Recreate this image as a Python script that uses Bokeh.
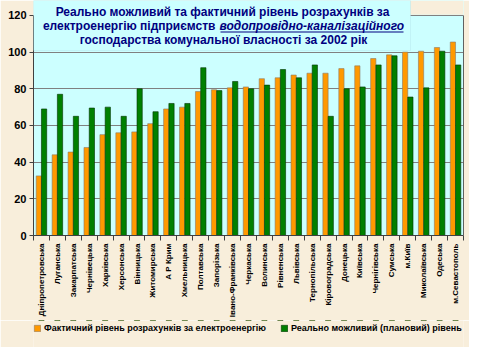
import math
from bokeh.plotting import figure
from bokeh.layouts import column
from bokeh.models import (ColumnDataSource, Range1d, FixedTicker, Legend, LegendItem,
                          BoxAnnotation, Label, LinearAxis)
from bokeh.transform import dodge
from bokeh.embed import file_html
from bokeh.resources import INLINE

regions = ["Дніпропетровська", "Луганська", "Закарпатська", "Чернівецька", "Харківська",
           "Херсонська", "Вінницька", "Житомирська", "А Р Крим", "Хмельницька",
           "Полтавська", "Запорізька", "Івано-Франківська", "Черкаська", "Волинська",
           "Рівненська", "Львівська", "Тернопільська", "Кіровоградська", "Донецька",
           "Київська", "Чернігівська", "Сумська", "м.Київ", "Миколаївська", "Одеська",
           "м.Севастополь"]
actual = [32.5, 44, 45.5, 48, 55, 56, 56.5, 61, 69, 70, 78.5, 79.5, 80.5, 81, 85.5, 86,
          87.5, 88.5, 88.5, 91, 92.5, 96.5, 98.5, 100, 100.5, 102.5, 105.5]
planned = [69, 77, 65, 69.5, 70, 65, 80, 67.5, 72, 72, 91.5, 79, 84, 80, 82, 90.5,
           86, 93, 65, 80, 81, 93, 98, 75.5, 80.5, 100.5, 93]
y_ticks = [0, 20, 40, 60, 80, 100, 120]

title_line1 = "Реально можливий та фактичний рівень розрахунків за"
title_line2a = "електроенергію підприємств"
title_line2b = "водопровідно-каналізаційного"
title_line3 = "господарства комунальної власності за 2002 рік"
legend_actual = "Фактичний рівень розрахунків за електроенергію"
legend_planned = "Реально можливий (плановий) рівень"

FONT = "Liberation Sans"
BG = "#f8eedb"
CYAN = "#ccffff"
ORANGE = "#ff9900"
GREEN = "#008000"
ORANGE_LINE = "#8a7a6a"
GREEN_LINE = "#003300"
AXIS = "#404040"

Y_MAX = max(y_ticks)
FIG_H, BOTTOM, TOP_GAP = 320, 84, 15
FRAME_H = FIG_H - BOTTOM
y_top = Y_MAX * FRAME_H / (FRAME_H - TOP_GAP)   # frame reaches canvas top; 120 sits 15px below

positions = list(range(1, len(regions) + 1))
src = ColumnDataSource(dict(x=positions, actual=actual, planned=planned))

p = figure(width=469, height=FIG_H, output_backend="svg", toolbar_location=None, title=None,
           x_range=Range1d(0.5, len(regions) + 0.5), y_range=Range1d(0, y_top),
           min_border_left=33, min_border_right=6, min_border_top=0, min_border_bottom=BOTTOM)

p.background_fill_color = CYAN
p.border_fill_color = BG
p.outline_line_color = None

p.vbar(x=dodge('x', -0.165, range=p.x_range), top='actual', width=0.33, source=src,
       fill_color=ORANGE, line_color=ORANGE_LINE, line_width=0.6)
p.vbar(x=dodge('x', 0.165, range=p.x_range), top='planned', width=0.33, source=src,
       fill_color=GREEN, line_color=GREEN_LINE, line_width=0.6)

xa = p.xaxis[0]
xa.ticker = FixedTicker(ticks=positions, minor_ticks=[i + 0.5 for i in range(len(regions) + 1)])
xa.major_label_overrides = {i + 1: n for i, n in enumerate(regions)}
xa.major_label_orientation = math.pi / 2
xa.major_tick_out = 0
xa.major_tick_in = 0
xa.minor_tick_out = 5
xa.minor_tick_in = 0
xa.major_label_standoff = 3
xa.major_label_text_font = FONT
xa.major_label_text_font_style = "bold"
xa.major_label_text_font_size = "8px"
xa.major_label_text_color = "black"
xa.axis_line_color = AXIS
xa.minor_tick_line_color = AXIS

ya = p.yaxis[0]
ya.ticker = FixedTicker(ticks=y_ticks)
ya.bounds = (0, Y_MAX)
ya.major_tick_out = 4
ya.major_tick_in = 0
ya.minor_tick_out = 0
ya.minor_tick_in = 0
ya.major_label_standoff = 3
ya.major_label_text_font = FONT
ya.major_label_text_font_style = "bold"
ya.major_label_text_font_size = "11px"
ya.major_label_text_color = "black"
ya.axis_line_color = AXIS
ya.major_tick_line_color = AXIS

# right edge of the plot area (0..120)
right_edge = LinearAxis(ticker=FixedTicker(ticks=[]), bounds=(0, Y_MAX),
                        major_tick_out=0, major_tick_in=0, minor_tick_out=0, minor_tick_in=0,
                        major_label_standoff=0, major_label_text_font_size="0px",
                        axis_line_color="#606060")
p.add_layout(right_edge, "right")

p.xgrid.visible = False
p.ygrid.ticker = FixedTicker(ticks=y_ticks)
p.ygrid.grid_line_color = "#808080"

# beige above the 120 line (outside the reference's plot area)
p.add_layout(BoxAnnotation(bottom=Y_MAX + 0.35, fill_color=BG, fill_alpha=1.0, line_alpha=0))

box = BoxAnnotation(left=33, right=410, top=0, bottom=50,
                    left_units="canvas", right_units="canvas",
                    top_units="canvas", bottom_units="canvas",
                    fill_color=CYAN, fill_alpha=1.0,
                    line_color="#a8d8e0", line_width=1)
p.add_layout(box)

def tlabel(x, y, text, align="center", style="bold"):
    return Label(x=x, y=y, x_units="canvas", y_units="canvas", text=text,
                 text_align=align, text_baseline="middle", text_font=FONT,
                 text_font_size="12px", text_font_style=style, text_color="#000080")

p.add_layout(tlabel(222, 11, title_line1))
p.add_layout(tlabel(215, 25, title_line2a, align="right"))
p.add_layout(tlabel(219, 25, title_line2b, align="left", style="bold italic"))
p.add_layout(tlabel(223, 39, title_line3))
underline = BoxAnnotation(left=220, right=403, top=31, bottom=32,
                          left_units="canvas", right_units="canvas",
                          top_units="canvas", bottom_units="canvas",
                          fill_color="#000080", fill_alpha=1.0, line_alpha=0)
p.add_layout(underline)

# legend strip (its bars sit outside its visible range; only the legend shows)
lg = figure(width=469, height=27, output_backend="svg", toolbar_location=None, title=None,
            x_axis_type=None, y_axis_type=None,
            x_range=Range1d(0.5, len(regions) + 0.5), y_range=Range1d(-2, -1),
            min_border_left=0, min_border_right=0, min_border_top=0, min_border_bottom=0)
lg.grid.visible = False
lg.background_fill_color = BG
lg.border_fill_color = BG
lg.outline_line_color = None
l1 = lg.vbar(x='x', top='actual', width=0.33, source=src,
             fill_color=ORANGE, line_color=ORANGE_LINE, line_width=0.6)
l2 = lg.vbar(x='x', top='planned', width=0.33, source=src,
             fill_color=GREEN, line_color=GREEN_LINE, line_width=0.6)

legend = Legend(items=[LegendItem(label=legend_actual, renderers=[l1]),
                       LegendItem(label=legend_planned, renderers=[l2])],
                location=(0, 13), orientation="horizontal",
                glyph_width=8, glyph_height=8, label_standoff=3, label_width=230,
                label_height=12, spacing=6, padding=0, margin=0,
                background_fill_alpha=0, border_line_alpha=0,
                label_text_font=FONT, label_text_font_size="9px",
                label_text_font_style="bold", label_text_color="black")
lg.add_layout(legend)

layout = column(p, lg, spacing=0)
open("out.html", "w").write(file_html(layout, INLINE))
